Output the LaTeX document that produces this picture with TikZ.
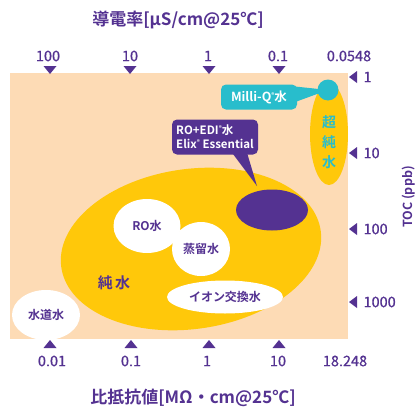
\documentclass[tikz,border=0pt]{standalone}
\usepackage{fontspec}
\setmainfont{Noto Sans CJK JP}[BoldFont={Noto Sans CJK JP Bold}]
\newfontfamily\numfont{Noto Sans CJK JP}[FakeBold=0.8]
\usepackage{tikz}
\usetikzlibrary{shapes.geometric,positioning,calc}
\definecolor{peach}{RGB}{253,219,181}
\definecolor{sunny}{RGB}{255,200,10}
\definecolor{grape}{RGB}{84,50,145}
\definecolor{teal}{RGB}{40,189,204}
\newcommand{\reg}{{\fontsize{6}{6}\selectfont\raisebox{4pt}{®}}}

\begin{document}
\begin{tikzpicture}
[x=1pt,y=-1pt,
title/.style={grape,font=\fontsize{17}{18}\selectfont\bfseries},
lab/.style={text=grape,font=\fontsize{14.5}{16}\numfont},
blob/.style={ellipse,fill=white,inner sep=0pt,text=grape,font=\fontsize{12}{14}\selectfont\bfseries},
callout/.style={rounded corners=5pt,inner sep=0pt,text=white,align=left,font=\fontsize{11.5}{14}\selectfont\bfseries}]
\useasboundingbox (0,0) rectangle (416,407);
\node (field) at (179,206) [rectangle,fill=peach,minimum width=338pt,minimum height=266pt,inner sep=0pt] {};

\node (cond) at (178,20) [title] {導電率[μS/cm@25℃]};
\node (res) at (193,398) [title] {比抵抗値[MΩ・cm@25℃]};
\node (toc) at (409,197) [text=grape,rotate=90,font=\fontsize{12.5}{14}\selectfont\bfseries] {TOC (ppb)};

% top scale
\node (c1) at (48,56) [lab] {100};
\node (c2) at (130,56) [lab] {10};
\node (c3) at (208,56) [lab] {1};
\node (c4) at (278,56) [lab] {0.1};
\node (c5) at (349,56) [lab] {0.0548};
\coordinate (tc1) at (50,70);
\coordinate (tc2) at (130,70);
\coordinate (tc3) at (209,70);
\coordinate (tc4) at (279,70);
\foreach \p in {tc1,tc2,tc3,tc4}
  \fill[grape] (\p) +(-6.5,-4) -- +(6.5,-4) -- +(0,4) -- cycle;

% bottom scale
\node (r1) at (52,361) [lab] {0.01};
\node (r2) at (131,361) [lab] {0.1};
\node (r3) at (207,361) [lab] {1};
\node (r4) at (278,361) [lab] {10};
\node (r5) at (345,361) [lab] {18.248};
\coordinate (tr1) at (50,344);
\coordinate (tr2) at (131,344);
\coordinate (tr3) at (209,344);
\coordinate (tr4) at (279,344);
\foreach \p in {tr1,tr2,tr3,tr4}
  \fill[grape] (\p) +(-6.5,4) -- +(6.5,4) -- +(0,-4) -- cycle;

% right scale
\node (t1) at (360,77) [lab,anchor=west] {1};
\node (t2) at (360,153) [lab,anchor=west] {10};
\node (t3) at (360,229) [lab,anchor=west] {100};
\node (t4) at (360,302) [lab,anchor=west] {1000};
\coordinate (tt1) at (353,77);
\coordinate (tt2) at (353,153);
\coordinate (tt3) at (353,229);
\coordinate (tt4) at (353,302);
\foreach \p in {tt1,tt2,tt3,tt4}
  \fill[grape] (\p) +(4,-6) -- +(4,6) -- +(-4,0) -- cycle;

% water grades
\node (pure) at (191,249) [ellipse,fill=sunny,minimum width=262pt,minimum height=160pt,inner sep=0pt,rotate=8] {};
\node (puretxt) at (114,283) [text=grape,font=\fontsize{15}{16}\selectfont\bfseries] {純\,水};
\node (tap) at (46,315) [blob,minimum width=68pt,minimum height=50pt] {水道水};
\node (ro) at (147,226) [blob,minimum width=67pt,minimum height=54pt] {RO水};
\node (dist) at (201,249) [blob,minimum width=58pt,minimum height=54pt] {蒸留水};
\node (ion) at (225,297) [blob,minimum width=116pt,minimum height=33pt] {イオン交換水};
\node (edi) at (272,210) [ellipse,fill=grape,minimum width=72pt,minimum height=41pt,inner sep=0pt] {};

\node (ultra) at (329,134) [ellipse,fill=sunny,minimum width=38pt,minimum height=102pt,inner sep=0pt] {};
\node (ultratxt) at (329,142) [text=teal,align=center,font=\fontsize{14}{20}\selectfont\bfseries] {超\\純\\水};
\node (mq) at (328,90) [circle,fill=teal,minimum size=21pt,inner sep=0pt] {};

% callouts
\node (mqbox) at (259,97) [callout,fill=teal,minimum width=76pt,minimum height=25pt,align=center,font=\fontsize{12.5}{14}\selectfont\bfseries] {Milli-Q\reg 水};
\fill[teal] ($(mqbox.north east)+(-4,2)$) -- (mq.center) -- ($(mqbox.east)+(-2,5)$) -- cycle;
\node (edibox) at (215,137) [callout,fill=grape,minimum width=86pt,minimum height=35pt] {RO+EDI\reg 水\\Elix\reg\ Essential};
\coordinate (editip) at (257,186);
\fill[grape] ($(edibox.south)+(17,-2)$) -- (editip) -- ($(edibox.south)+(32,-2)$) -- cycle;

\end{tikzpicture}
\end{document}
